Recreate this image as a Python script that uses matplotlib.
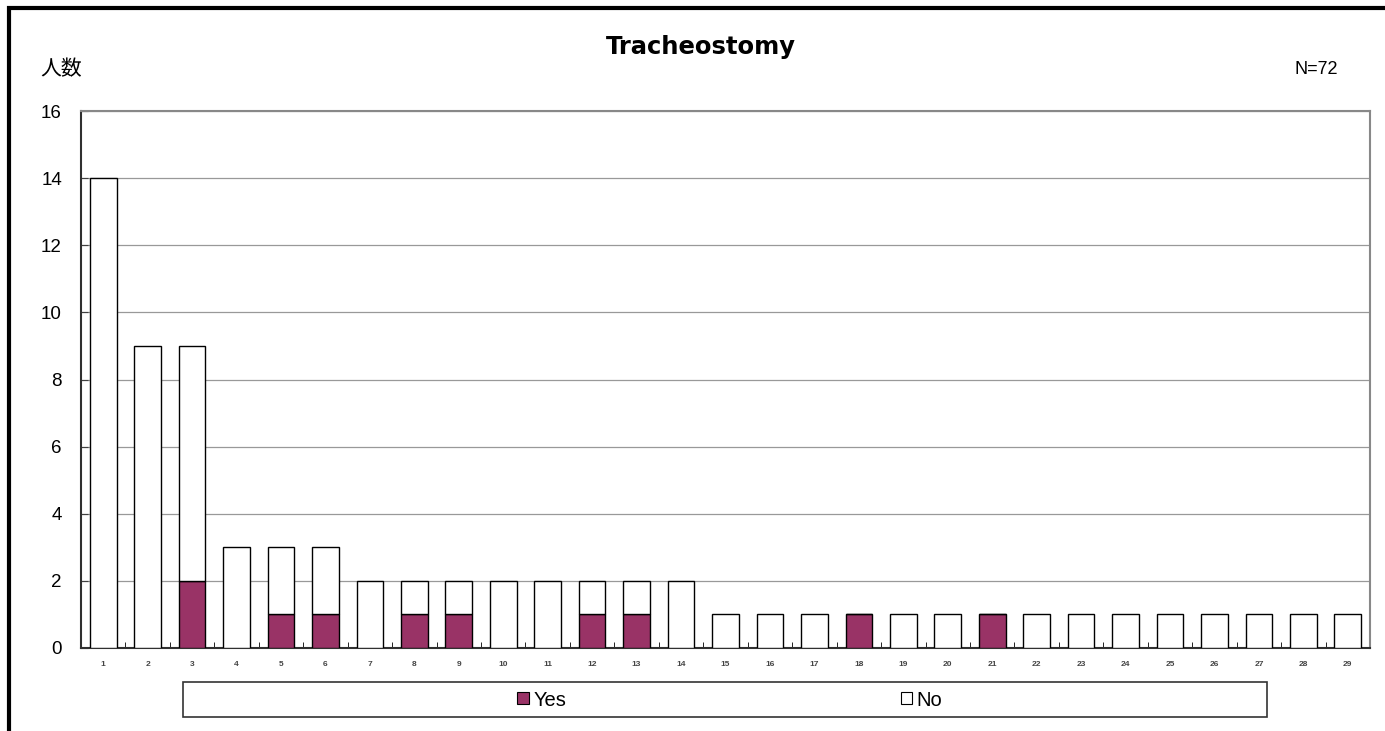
import matplotlib
matplotlib.use("Agg")
import matplotlib.pyplot as plt
import numpy as np
from matplotlib.patches import Rectangle, Patch

plt.rcParams['font.family'] = ['Liberation Sans', 'Noto Sans CJK JP']

categories = [str(i) for i in range(1, 30)]
yes_vals = [0, 0, 2, 0, 1, 1, 0, 1, 1, 0, 0, 1, 1, 0, 0, 0, 0, 1, 0, 0, 1, 0, 0, 0, 0, 0, 0, 0, 0]
no_vals = [14, 9, 7, 3, 2, 2, 2, 1, 1, 2, 2, 1, 1, 2, 1, 1, 1, 0, 1, 1, 0, 1, 1, 1, 1, 1, 1, 1, 1]
series_names = ["Yes", "No"]
title = "Tracheostomy"
n_label = "N=72"
y_label = "人数"
yticks = [0, 2, 4, 6, 8, 10, 12, 14, 16]

W, H = 1385, 731
fig = plt.figure(figsize=(W / 100, H / 100), dpi=100)
ax = fig.add_axes([81 / W, 1 - 648 / H, (1370 - 81) / W, (648 - 111) / H])

x = np.arange(len(categories))
purple = "#993366"
ax.bar(x, yes_vals, width=0.6, color=purple, edgecolor="black", linewidth=1.0, zorder=3)
ax.bar(x, no_vals, width=0.6, bottom=yes_vals, color="white", edgecolor="black", linewidth=1.0, zorder=3)

ax.set_xlim(-0.5, len(categories) - 0.5)
ax.set_ylim(0, 16)
ax.set_yticks(yticks)
ax.set_yticklabels([str(v) for v in yticks], fontsize=13.5)
ax.yaxis.grid(True, color="#999999", linewidth=0.9, zorder=0)
ax.tick_params(axis="y", direction="in", length=5, pad=13.7, color="#404040")

ax.set_xticks(x)
ax.set_xticklabels(categories, fontsize=6, color="#444444", fontweight="bold")
ax.tick_params(axis="x", which="major", length=0, pad=9)
ax.set_xticks(np.arange(-0.5, len(categories), 1.0), minor=True)
ax.tick_params(axis="x", which="minor", direction="in", length=4, color="black")

for s in ["left", "bottom"]:
    ax.spines[s].set_color("#303030")
    ax.spines[s].set_linewidth(1.5)
for s in ["top", "right"]:
    ax.spines[s].set_color("#888888")
    ax.spines[s].set_linewidth(1.5)

fig.text(701 / W, 1 - 47 / H, title, fontsize=17.5, fontweight="bold", ha="center", va="center",
         family="DejaVu Sans")
fig.text(40 / W, 1 - 69 / H, y_label, fontsize=15, ha="left", va="center", family="Noto Sans CJK JP")
fig.text(1338 / W, 1 - 69 / H, n_label, fontsize=13, ha="right", va="center")

# figure border (left and top thick black)
fig.patches.append(Rectangle((9 / W, -0.05), 1.2, 1 - 8 / H + 0.05, transform=fig.transFigure,
                             fill=False, edgecolor="black", linewidth=3, zorder=10))

# legend frame
fig.patches.append(Rectangle((183 / W, 1 - 717 / H), (1267 - 183) / W, 35 / H, transform=fig.transFigure,
                             fill=False, edgecolor="#333333", linewidth=1.2))
handles = [Patch(facecolor=purple, edgecolor="black", linewidth=0.8),
           Patch(facecolor="white", edgecolor="black", linewidth=0.8)]
fig.legend(handles, series_names, loc="center", bbox_to_anchor=(730 / W, 1 - 700 / H),
           ncol=2, frameon=False, fontsize=14.5, handlelength=0.55, handleheight=0.55,
           handletextpad=0.25, columnspacing=16.6, borderpad=0)

fig.savefig("out.png", dpi=100)
